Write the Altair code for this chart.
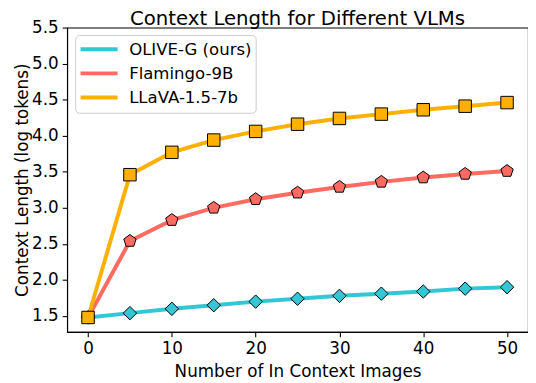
import altair as alt
import pandas as pd

images = [0, 5, 10, 15, 20, 25, 30, 35, 40, 45, 50]
olive = [1.48, 1.54, 1.60, 1.65, 1.70, 1.74, 1.78, 1.81, 1.84, 1.88, 1.90]
flamingo = [1.48, 2.54, 2.83, 3.00, 3.12, 3.21, 3.29, 3.36, 3.42, 3.47, 3.51]
llava = [1.48, 3.46, 3.77, 3.94, 4.06, 4.16, 4.24, 4.30, 4.36, 4.41, 4.46]

models = ["OLIVE-G (ours)", "Flamingo-9B", "LLaVA-1.5-7b"]
colors = ["#33C6D4", "#FF6B61", "#FFB000"]
pentagon = "M0,-1L0.951,-0.309L0.588,0.809L-0.588,0.809L-0.951,-0.309Z"
shapes = ["diamond", pentagon, "square"]

rows = []
for m, vals in zip(models, [olive, flamingo, llava]):
    for x, y in zip(images, vals):
        rows.append({"model": m, "x": x, "y": y, "order": models.index(m)})
df = pd.DataFrame(rows)
legend_df = pd.DataFrame({"model": models})
box_df = pd.DataFrame({"box": [0]})

FONT = "DejaVu Sans"
FS = 17

xenc = alt.X("x:Q", scale=alt.Scale(domain=[-2.5, 52.5], nice=False, zero=False),
             axis=alt.Axis(values=[0, 10, 20, 30, 40, 50], title="Number of In Context Images",
                           format="d"))
yenc = alt.Y("y:Q", scale=alt.Scale(domain=[1.28, 5.5], nice=False, zero=False),
             axis=alt.Axis(values=[1.5, 2.0, 2.5, 3.0, 3.5, 4.0, 4.5, 5.0, 5.5], format=".1f",
                           title="Context Length (log tokens)"))
color_scale = alt.Scale(domain=models, range=colors)

base = alt.Chart(df)

lines = base.mark_line(strokeWidth=4).encode(
    x=xenc, y=yenc,
    color=alt.Color("model:N", scale=color_scale, legend=None),
    detail="model:N",
)

points = base.mark_point(filled=True, stroke="black", strokeWidth=1, opacity=1).encode(
    x=xenc, y=yenc,
    fill=alt.Fill("model:N", scale=color_scale, legend=None),
    shape=alt.Shape("model:N", scale=alt.Scale(domain=models, range=shapes), legend=None),
    size=alt.Size("model:N", scale=alt.Scale(domain=models, range=[185, 160, 165]), legend=None),
    order=alt.Order("order:Q"),
)

data_layer = alt.layer(lines, points)

# legend (manual, matplotlib-style)
box = alt.Chart(box_df).mark_rect(fill="white", fillOpacity=0.8, stroke="#cccccc",
                                  strokeWidth=1, cornerRadius=4).encode(
    x=alt.value(8.7), x2=alt.value(192), y=alt.value(8), y2=alt.value(87))

ly = alt.Y("model:N", scale=alt.Scale(type="point", domain=models, range=[22, 71], padding=0),
           axis=None)
leg_lines = alt.Chart(legend_df).mark_rule(strokeWidth=4).encode(
    x=alt.value(13.7), x2=alt.value(51.3), y=ly,
    color=alt.Color("model:N", scale=color_scale, legend=None))
leg_text = alt.Chart(legend_df).mark_text(align="left", baseline="middle", font=FONT,
                                          fontSize=16.8, color="black", dy=1).encode(
    x=alt.value(63), y=ly, text="model:N")

legend_layer = alt.layer(box, leg_lines, leg_text)

chart = alt.layer(data_layer, legend_layer).resolve_scale(y="independent").properties(
    width=468, height=309,
    title=alt.Title("Context Length for Different VLMs", font=FONT, fontSize=20,
                    fontWeight="normal", color="black", anchor="middle", offset=-10),
    autosize=alt.AutoSizeParams(type="none"),
    padding={"left": 60, "top": 17, "right": 0, "bottom": 48},
).configure_view(
    stroke="black", strokeWidth=1.1
).configure_axis(
    grid=False, domainColor="black", domainWidth=1.1, tickColor="black", tickSize=5,
    tickWidth=1.1, labelFont=FONT, labelFontSize=FS, labelColor="black", labelPadding=4,
    titleFont=FONT, titleFontSize=FS, titleFontWeight="normal", titleColor="black",
).configure_axisY(titlePadding=0).configure_axisX(titlePadding=7)

chart.save("out.html", embed_options={"renderer": "svg", "actions": False})
